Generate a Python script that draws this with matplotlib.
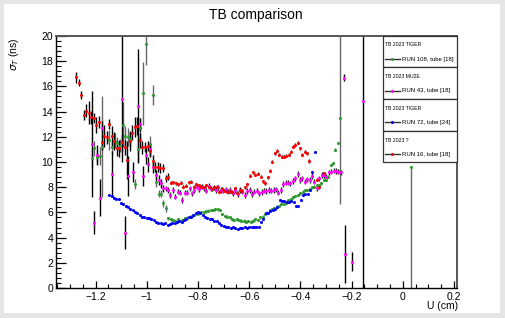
import numpy as np
import matplotlib
matplotlib.use("Agg")
import matplotlib.pyplot as plt
from matplotlib.patches import Rectangle
from matplotlib.lines import Line2D
from matplotlib.ticker import MultipleLocator, FixedLocator, FixedFormatter

plt.rcParams['font.family'] = ['Liberation Sans', 'DejaVu Sans']

W, H = 506, 318

# RUN 108 (green): sparse left part, then dense part on a regular grid
green_u = [-1.216, -1.206, -1.195, -1.185, -1.176, -1.146, -1.136, -1.125, -1.116, -1.105,
           -1.095, -1.085, -1.074, -1.065, -1.046, -1.035, -1.026, -1.016, -1.005, -0.986,
           -0.975, -0.965, -0.954, -0.945, -0.935, -0.926]
green_sig = [10.29, 11.08, 10.42, 10.5, 11.2, 11.72, 11.16, 11.69, 11.5, 11.3,
             12.96, 12.06, 11.96, 11.8, 8.25, 11.03, 12.72, 15.45, 19.37, 11.43,
             15.3, 8.44, 7.5, 7.5, 6.72, 6.32]
green_err = [0.8, 0.6, 0.5, 0.7, 4.0, 0.8, 0.5, 0.6, 0.5, 0.5,
             1.8, 0.8, 0.7, 0.6, 0.4, 1.0, 0.8, 2.5, 1.7, 0.6,
             0.8, 0.4, 0.3, 0.3, 0.3, 0.3]
green_u0, green_du = -0.916, 0.0092
green_dense = [5.53, 5.45, 5.40, 5.32, 5.45, 5.32, 5.40, 5.53, 5.58, 5.66,
               5.71, 5.79, 5.87, 5.93, 6.03, 6.03, 6.08, 6.14, 6.19, 6.19,
               6.24, 6.24, 6.19, 5.87, 5.71, 5.66, 5.61, 5.45, 5.40, 5.45,
               5.40, 5.34, 5.34, 5.26, 5.30, 5.26, 5.34, 5.45, 5.40, 5.61,
               5.66, 5.87, 5.98, 6.19, 6.24, 6.32, 6.45, 6.51, 6.67, 6.67,
               6.77, 6.98, 7.04, 7.20, 7.30, 7.38, 7.51, 7.65, 7.78, 7.78,
               7.86, 7.99, 8.04, 8.17, 8.17, 8.30, 8.57, 8.57, 8.84, 9.76,
               9.90, 10.99, 11.50]
green_dense_err = 0.1
green_tail_u = [-0.245, 0.034]
green_tail_sig = [13.47, 9.58]
green_tail_lo = [6.8, 9.58]
green_tail_hi = [6.8, 0.0]

# RUN 43 (magenta)
mag_u = [-1.216, -1.206, -1.195, -1.185, -1.175, -1.136, -1.096, -1.086, -1.075, -1.056,
         -1.035, -1.025, -1.016, -1.004, -0.995, -0.986, -0.975, -0.965, -0.954, -0.945,
         -0.935]
mag_sig = [11.43, 5.19, 10.53, 7.17, 12.72, 9.05, 15.0, 4.39, 8.89, 9.18,
           14.44, 12.99, 8.86, 10.56, 9.81, 11.0, 9.6, 9.0, 8.6, 8.3,
           7.9]
mag_err = [4.2, 0.9, 0.8, 1.45, 0.5, 1.85, 5.0, 1.3, 1.6, 0.8,
           4.5, 0.5, 0.8, 0.7, 0.6, 0.5, 0.5, 0.4, 0.4, 0.35,
           0.3]
mag_u0, mag_du = -0.927, 0.00938
mag_dense = [7.91, 7.78, 7.38, 7.78, 7.25, 7.65, 7.57, 7.00, 7.57, 7.57,
             7.91, 7.51, 7.78, 8.04, 7.83, 8.04, 7.91, 7.73, 8.09, 7.88,
             7.99, 7.78, 7.99, 7.78, 7.73, 7.83, 7.65, 7.78, 7.51, 7.78,
             7.46, 7.78, 7.65, 7.38, 7.70, 7.78, 7.46, 7.65, 7.73, 7.51,
             7.62, 7.73, 7.70, 7.78, 7.73, 7.78, 7.83, 7.57, 7.78, 8.25,
             8.36, 8.36, 8.30, 8.49, 8.70, 9.04, 8.57, 8.70, 8.44, 8.62,
             8.57, 8.89, 8.44, 7.91, 8.70, 8.97, 8.97, 8.84, 9.18, 9.23,
             9.31, 9.28, 9.23, 9.18]
mag_dense_err = 0.22
mag_tail_u = [-0.2305, -0.2254, -0.1965, -0.155]
mag_tail_sig = [16.7, 2.67, 2.09, 14.84]
mag_tail_err = [0.3, 2.3, 0.75, 15.0]

# RUN 72 (blue)
blue_u0, blue_du = -1.147, 0.00912
blue_sig = [7.38, 7.30, 7.17, 7.09, 7.04, 6.72, 6.64, 6.53, 6.43, 6.27,
            6.16, 6.06, 5.93, 5.79, 5.63, 5.61, 5.58, 5.56, 5.48, 5.37,
            5.26, 5.16, 5.13, 5.08, 5.16, 5.03, 5.04, 5.19, 5.13, 5.24,
            5.32, 5.24, 5.40, 5.50, 5.66, 5.66, 5.77, 5.93, 6.03, 5.93,
            5.79, 5.66, 5.58, 5.45, 5.50, 5.34, 5.32, 5.13, 5.00, 4.92,
            4.87, 4.87, 4.74, 4.87, 4.74, 4.66, 4.79, 4.76, 4.87, 4.79,
            4.87, 4.87, 4.87, 4.87, 4.87, 5.26, 5.50, 5.93, 5.98, 6.08,
            6.19, 6.24, 6.45, 6.98, 6.93, 6.88, 6.82, 6.82, 6.93, 6.82,
            6.51, 6.51, 6.98, 7.38, 7.43, 7.43, 7.78, 9.23, 10.77]
blue_err = 0.05

# RUN 16 (red): two grid segments plus a few trailing points
red_u0_a, red_du_a = -1.277, 0.01
red_sig_a = [16.72, 16.30, 15.32, 13.73, 14.07, 13.92, 13.54, 13.47, 12.94, 13.17,
             11.59, 12.06, 11.96, 12.99, 12.09, 11.69, 11.08, 11.08, 11.56, 11.16,
             10.13, 11.69, 12.33, 12.80, 12.88, 11.72, 11.16, 11.22, 11.30, 10.90,
             10.08, 9.63, 9.58, 9.52, 9.52, 8.70, 8.84,
             8.36, 8.41, 8.31, 8.23, 8.36, 8.04, 8.10, 8.41, 8.44, 8.04,
             8.23, 8.15, 8.04, 7.99, 8.17, 8.04, 7.83, 7.99, 8.04, 7.65,
             7.88, 7.73, 7.65, 7.67, 7.62, 7.91, 7.57, 7.78, 7.73, 7.99,
             8.25, 8.89, 9.18, 8.97, 9.05]
red_err_a = [0.45, 0.3, 0.35, 0.4, 0.5, 0.9, 0.5, 0.4, 0.6, 0.5,
             0.6, 0.9, 0.5, 0.4, 0.8, 0.7, 0.6, 0.7, 0.7, 0.6,
             1.5, 0.8, 0.6, 0.8, 0.7, 0.6, 0.5, 0.4, 0.4, 0.5,
             0.5, 0.4, 0.4, 0.4, 0.35, 0.3, 0.3]
red_u0_b, red_du_b = -0.555, 0.00906
red_sig_b = [8.84, 8.49, 8.31, 8.78, 9.29, 10.03, 10.69, 10.90, 10.56, 10.42,
             10.42, 10.48, 10.56, 10.82, 11.22, 11.35, 11.53, 11.08, 10.56, 10.82,
             10.69, 10.08]
red_tail_u = [-0.336, -0.327, -0.306]
red_tail_sig = [8.6, 8.0, 9.1]
red_small_err = 0.12

legend_headers = ["TB 2023 TIGER", "TB 2023 MU2E", "TB 2023 TIGER", "TB 2023 ?"]
legend_labels = ["RUN 108, tube [18]", "RUN 43, tube [18]", "RUN 72, tube [24]", "RUN 16, tube [18]"]
colors = ["#2e9a2e", "#ff00ff", "#0000ff", "#ff0000"]

x_major = [-1.2, -1.0, -0.8, -0.6, -0.4, -0.2, 0.0, 0.2]
x_labels = ["\u22121.2", "\u22121", "\u22120.8", "\u22120.6", "\u22120.4", "\u22120.2", "0", "0.2"]


def grid(u0, du, vals):
    return u0 + du * np.arange(len(vals))


def fx(px):
    return px / W


def fy(py):
    return 1 - py / H


fig = plt.figure(figsize=(W / 100, H / 100), dpi=100, facecolor="#e6e6e6")
fig.add_artist(Rectangle((fx(4), fy(313)), fx(500) - fx(4), fy(4) - fy(313),
                         transform=fig.transFigure, facecolor="white", edgecolor="none", zorder=0))

ax = fig.add_axes([fx(56), fy(288), fx(457) - fx(56), fy(36) - fy(288)])
ax.set_xlim(-1.355, 0.212)
ax.set_ylim(0, 20)

pt = dict(fmt="o", ms=2.2, mew=0, capsize=0, elinewidth=1.0)

# green
ax.errorbar(green_u, green_sig, yerr=green_err, color=colors[0], ecolor="#666666", **pt)
ax.errorbar(grid(green_u0, green_du, green_dense), green_dense, yerr=green_dense_err,
            color=colors[0], ecolor="#666666", **pt)
ax.errorbar(green_tail_u, green_tail_sig, yerr=[green_tail_lo, green_tail_hi],
            color=colors[0], ecolor="#666666", **pt)

# magenta
ax.errorbar(mag_u, mag_sig, yerr=mag_err, color=colors[1], ecolor="black", **pt)
ax.errorbar(grid(mag_u0, mag_du, mag_dense), mag_dense, yerr=mag_dense_err,
            color=colors[1], ecolor="#222222", **pt)
ax.errorbar(mag_tail_u, mag_tail_sig, yerr=mag_tail_err, color=colors[1], ecolor="black", **pt)

# blue
ax.errorbar(grid(blue_u0, blue_du, blue_sig), blue_sig, yerr=blue_err,
            color=colors[2], ecolor="black", **pt)

# red
red_u_a = grid(red_u0_a, red_du_a, red_sig_a)
red_err_full = red_err_a + [red_small_err] * (len(red_sig_a) - len(red_err_a))
ax.errorbar(red_u_a, red_sig_a, yerr=red_err_full, color=colors[3], ecolor="black", **pt)
ax.errorbar(grid(red_u0_b, red_du_b, red_sig_b), red_sig_b, yerr=red_small_err,
            color=colors[3], ecolor="black", **pt)
ax.errorbar(red_tail_u, red_tail_sig, yerr=red_small_err, color=colors[3], ecolor="black", **pt)

# axes styling (ROOT-like)
ax.xaxis.set_major_locator(FixedLocator(x_major))
ax.xaxis.set_major_formatter(FixedFormatter(x_labels))
ax.xaxis.set_minor_locator(MultipleLocator(0.05))
ax.yaxis.set_major_locator(MultipleLocator(2))
ax.yaxis.set_minor_locator(MultipleLocator(0.4))
ax.tick_params(axis="both", which="both", direction="in", top=False, right=False,
               labelsize=7.5, color="black")
ax.tick_params(axis="x", which="major", length=5, width=0.9, pad=3)
ax.tick_params(axis="x", which="minor", length=2.6, width=0.8)
ax.tick_params(axis="y", which="major", length=7, width=0.9, pad=2)
ax.tick_params(axis="y", which="minor", length=3.6, width=0.8)
for s in ("left", "bottom"):
    ax.spines[s].set_color("black")
    ax.spines[s].set_linewidth(1.0)
for s in ("top", "right"):
    ax.spines[s].set_color("#555555")
    ax.spines[s].set_linewidth(1.4)

fig.text(fx(256), fy(15), "TB comparison", ha="center", va="center", fontsize=10)
fig.text(fx(14), fy(38), r"$\sigma_{T}$ (ns)", rotation=90, ha="center", va="top", fontsize=7.5)
fig.text(fx(458), fy(306), "U (cm)", ha="right", va="center", fontsize=7.5)

# stacked legend boxes
box_top, box_h = 35.5, 31.7
x0, x1 = 383, 457
for i in range(4):
    top = box_top + i * box_h
    fig.add_artist(Rectangle((fx(x0), fy(top + box_h)), fx(x1) - fx(x0), fy(top) - fy(top + box_h),
                             transform=fig.transFigure, facecolor="white",
                             edgecolor="#333333", lw=0.9, zorder=5))
    fig.text(fx(385), fy(top + 9.5), legend_headers[i], ha="left", va="center",
             fontsize=3.7, zorder=6)
    ly = fy(top + 23.5)
    fig.add_artist(Line2D([fx(385), fx(400)], [ly, ly], transform=fig.transFigure,
                          color="#333333", lw=1.0, zorder=6))
    fig.add_artist(Line2D([fx(392)], [ly], transform=fig.transFigure, marker="o", ms=2.2,
                          mew=0, color=colors[i], zorder=7))
    fig.text(fx(402), ly, legend_labels[i], ha="left", va="center", fontsize=4.3, zorder=6)

fig.savefig("out.png", dpi=100, facecolor=fig.get_facecolor())
